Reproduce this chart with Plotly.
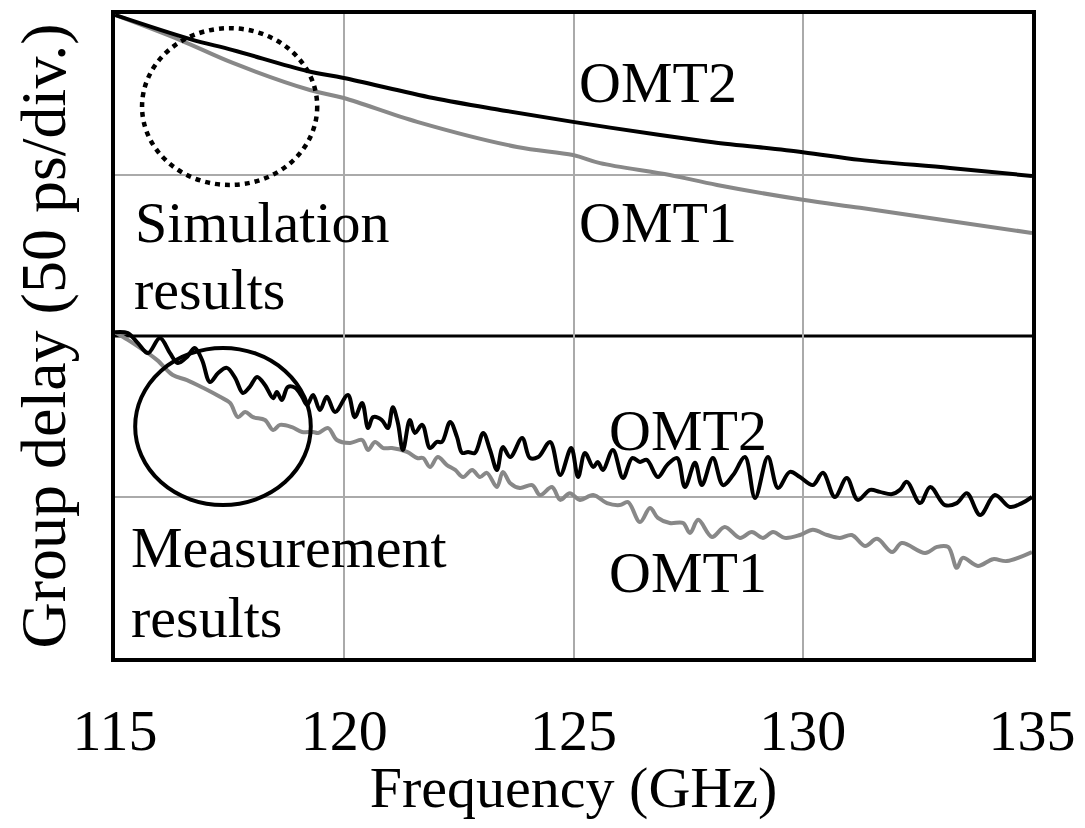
import plotly.graph_objects as go

# ---------------- data (frequency in GHz, group delay in ps) ----------------
sim_omt2_f = [115.0, 116.64, 117.57, 119.19, 119.99, 121.94, 123.40, 124.99, 126.89, 128.04, 130.00, 131.25, 133.21, 135.0]
sim_omt2_d = [199.7, 192.2, 188.8, 182.3, 180.1, 173.9, 170.2, 166.5, 162.4, 160.2, 157.1, 154.7, 152.2, 149.7]

sim_omt1_f = [115.0, 116.42, 117.57, 119.25, 119.99, 121.59, 123.77, 124.99, 125.58, 127.10, 128.13, 130.00, 131.25, 133.21, 135.0]
sim_omt1_d = [199.7, 191.9, 184.8, 176.4, 173.9, 166.5, 158.7, 156.2, 153.7, 150.0, 146.9, 142.3, 139.8, 135.7, 132.0]

meas_omt2_f = [115.00, 115.28, 115.50, 115.72, 115.98, 116.20, 116.37, 116.57, 116.74, 116.90, 117.07, 117.25, 117.44,
               117.62, 117.79, 117.94, 118.10, 118.27, 118.45, 118.53, 118.64, 118.77, 118.93, 119.08, 119.19, 119.32,
               119.47, 119.62, 119.80, 120.08, 120.23, 120.39, 120.52, 120.63, 120.82, 120.95, 121.06, 121.17, 121.28,
               121.43, 121.54, 121.70, 121.87, 122.02, 122.13, 122.31, 122.46, 122.57, 122.70, 122.85, 123.03, 123.18,
               123.33, 123.46, 123.62, 123.88, 124.05, 124.23, 124.49, 124.71, 124.95, 125.10, 125.25, 125.43, 125.53,
               125.64, 125.86, 126.08, 126.28, 126.45, 126.60, 126.84, 127.04, 127.26, 127.43, 127.65, 127.80, 128.04,
               128.26, 128.48, 128.74, 128.96, 129.24, 129.46, 129.72, 129.94, 130.22, 130.44, 130.70, 130.96, 131.20,
               131.47, 131.68, 131.95, 132.12, 132.27, 132.56, 132.78, 133.10, 133.36, 133.58, 133.87, 134.19, 134.52,
               134.78, 135.00]
meas_omt2_d = [101.2, 100.9, 97.8, 94.7, 99.4, 94.7, 91.6, 93.5, 96.3, 92.5, 85.7, 88.5, 90.1,
               87.0, 82.3, 84.2, 87.3, 84.8, 80.7, 82.6, 80.1, 84.2, 83.9, 81.1, 78.6, 81.7,
               77.0, 81.1, 76.4, 81.7, 74.8, 79.2, 71.4, 74.8, 73.9, 71.4, 77.9, 73.0, 64.6,
               73.9, 69.9, 72.4, 65.2, 67.1, 67.1, 73.3, 68.6, 63.7, 64.0, 63.7, 69.9, 64.6,
               58.4, 65.5, 62.4, 68.3, 62.1, 62.4, 67.1, 56.8, 65.2, 56.2, 63.7, 59.3, 60.9,
               58.4, 64.6, 55.9, 62.1, 60.9, 61.5, 56.2, 59.9, 62.1, 53.1, 60.6, 53.7, 62.1,
               53.7, 56.8, 62.4, 49.7, 62.4, 52.8, 57.8, 56.2, 53.7, 57.5, 50.0, 55.9, 49.1,
               52.2, 51.6, 50.9, 52.2, 54.7, 48.1, 53.1, 47.5, 48.1, 51.2, 44.4, 50.6, 46.9,
               48.1, 50.0]

meas_omt1_f = [115.00, 115.28, 115.61, 115.92, 116.26, 116.57, 116.92, 117.29, 117.51, 117.68, 117.84, 118.01, 118.27,
               118.45, 118.60, 118.86, 119.08, 119.32, 119.43, 119.65, 119.84, 120.13, 120.39, 120.52, 120.67, 120.85,
               121.04, 121.37, 121.59, 121.72, 121.87, 122.04, 122.24, 122.42, 122.59, 122.79, 122.96, 123.11, 123.33,
               123.46, 123.62, 123.83, 124.10, 124.27, 124.53, 124.71, 124.92, 125.14, 125.43, 125.73, 126.01, 126.19,
               126.45, 126.67, 126.84, 127.10, 127.39, 127.54, 127.72, 128.02, 128.30, 128.63, 128.89, 129.13, 129.35,
               129.61, 129.94, 130.22, 130.53, 130.81, 131.07, 131.36, 131.62, 131.95, 132.16, 132.67, 132.93, 133.17,
               133.36, 133.49, 133.82, 134.15, 134.45, 135.00]
meas_omt1_d = [101.2, 98.8, 95.7, 92.5, 87.9, 86.3, 83.9, 81.1, 79.2, 74.8, 76.4, 74.8, 73.9,
               70.8, 72.4, 71.7, 70.2, 70.2, 69.9, 71.4, 67.7, 66.8, 67.7, 64.6, 67.1, 65.2,
               65.2, 64.0, 62.1, 62.1, 59.3, 62.4, 59.9, 58.4, 56.2, 58.4, 56.2, 57.5, 53.1,
               57.8, 54.3, 52.8, 53.7, 50.6, 53.1, 49.1, 51.2, 49.1, 50.6, 48.1, 47.5, 48.4,
               42.2, 46.6, 43.5, 41.9, 41.9, 38.8, 42.9, 37.6, 40.7, 37.3, 39.1, 37.3, 39.1,
               37.3, 38.2, 39.8, 38.2, 37.3, 38.2, 34.8, 37.0, 32.9, 35.7, 32.6, 34.5, 34.5,
               28.0, 31.1, 28.6, 30.7, 30.1, 32.9]

x_ticks = [115, 120, 125, 130, 135]
x_tick_labels = ["115", "120", "125", "130", "135"]
y_grid = [50, 150]
y_divider = 100

FONT = "Liberation Serif, Times New Roman, serif"
BLACK = "#000000"
GRAY = "#888888"

fig = go.Figure()
fig.add_trace(go.Scatter(x=sim_omt1_f, y=sim_omt1_d, mode="lines", line=dict(color=GRAY, width=4, shape="spline"), showlegend=False))
fig.add_trace(go.Scatter(x=sim_omt2_f, y=sim_omt2_d, mode="lines", line=dict(color=BLACK, width=4, shape="spline"), showlegend=False))
fig.add_trace(go.Scatter(x=meas_omt1_f, y=meas_omt1_d, mode="lines", line=dict(color=GRAY, width=4, shape="spline", smoothing=1.0), showlegend=False))
fig.add_trace(go.Scatter(x=meas_omt2_f, y=meas_omt2_d, mode="lines", line=dict(color=BLACK, width=4, shape="spline", smoothing=1.0), showlegend=False))

# divider between simulation and measurement panels
fig.add_shape(type="line", xref="x", yref="y", x0=115, x1=135, y0=y_divider, y1=y_divider,
              line=dict(color=BLACK, width=3), layer="below")
# highlight circles
fig.add_shape(type="circle", xref="x", yref="y", x0=115.59, x1=119.41, y0=146.9, y1=195.6,
              line=dict(color=BLACK, width=4.5, dash="5px,5px"))
fig.add_shape(type="circle", xref="x", yref="y", x0=115.44, x1=119.27, y0=47.5, y1=96.3,
              line=dict(color=BLACK, width=4))

ann_font = dict(family=FONT, size=58, color=BLACK)
labels = [
    ("Simulation", 115.40, 135.4),
    ("results", 115.36, 114.3),
    ("Measurement", 115.30, 34.2),
    ("results", 115.30, 12.7),
    ("OMT2", 125.08, 178.6),
    ("OMT1", 125.08, 135.1),
    ("OMT2", 125.74, 70.8),
    ("OMT1", 125.74, 26.7),
]
for txt, xx, yy in labels:
    fig.add_annotation(x=xx, y=yy, xref="x", yref="y", text=txt, showarrow=False,
                       xanchor="left", yanchor="middle", font=ann_font)

# page body has an 8px margin: figure is sized/offset to compensate
fig.update_layout(
    width=1069, height=812,
    margin=dict(l=107, r=45, t=6, b=162),
    paper_bgcolor="white", plot_bgcolor="white",
    font=dict(family=FONT, color=BLACK),
)
fig.update_xaxes(
    range=[115, 135], tickvals=x_ticks, ticktext=x_tick_labels,
    showgrid=True, gridcolor="#aaaaaa", gridwidth=1.5,
    showline=True, linecolor=BLACK, linewidth=4, mirror=True,
    ticks="", tickfont=dict(family=FONT, size=58), ticklabelstandoff=18,
    title=dict(text="Frequency (GHz)", font=dict(family=FONT, size=58), standoff=32),
    zeroline=False, automargin=False,
)
fig.update_yaxes(
    range=[0, 200], tickvals=y_grid, showticklabels=False,
    showgrid=True, gridcolor="#aaaaaa", gridwidth=1.5,
    showline=True, linecolor=BLACK, linewidth=4, mirror=True,
    ticks="",
    title=dict(text="Group delay (50 ps/div.)", font=dict(family=FONT, size=64), standoff=36),
    zeroline=False, automargin=False,
)

fig.write_html("out.html")
